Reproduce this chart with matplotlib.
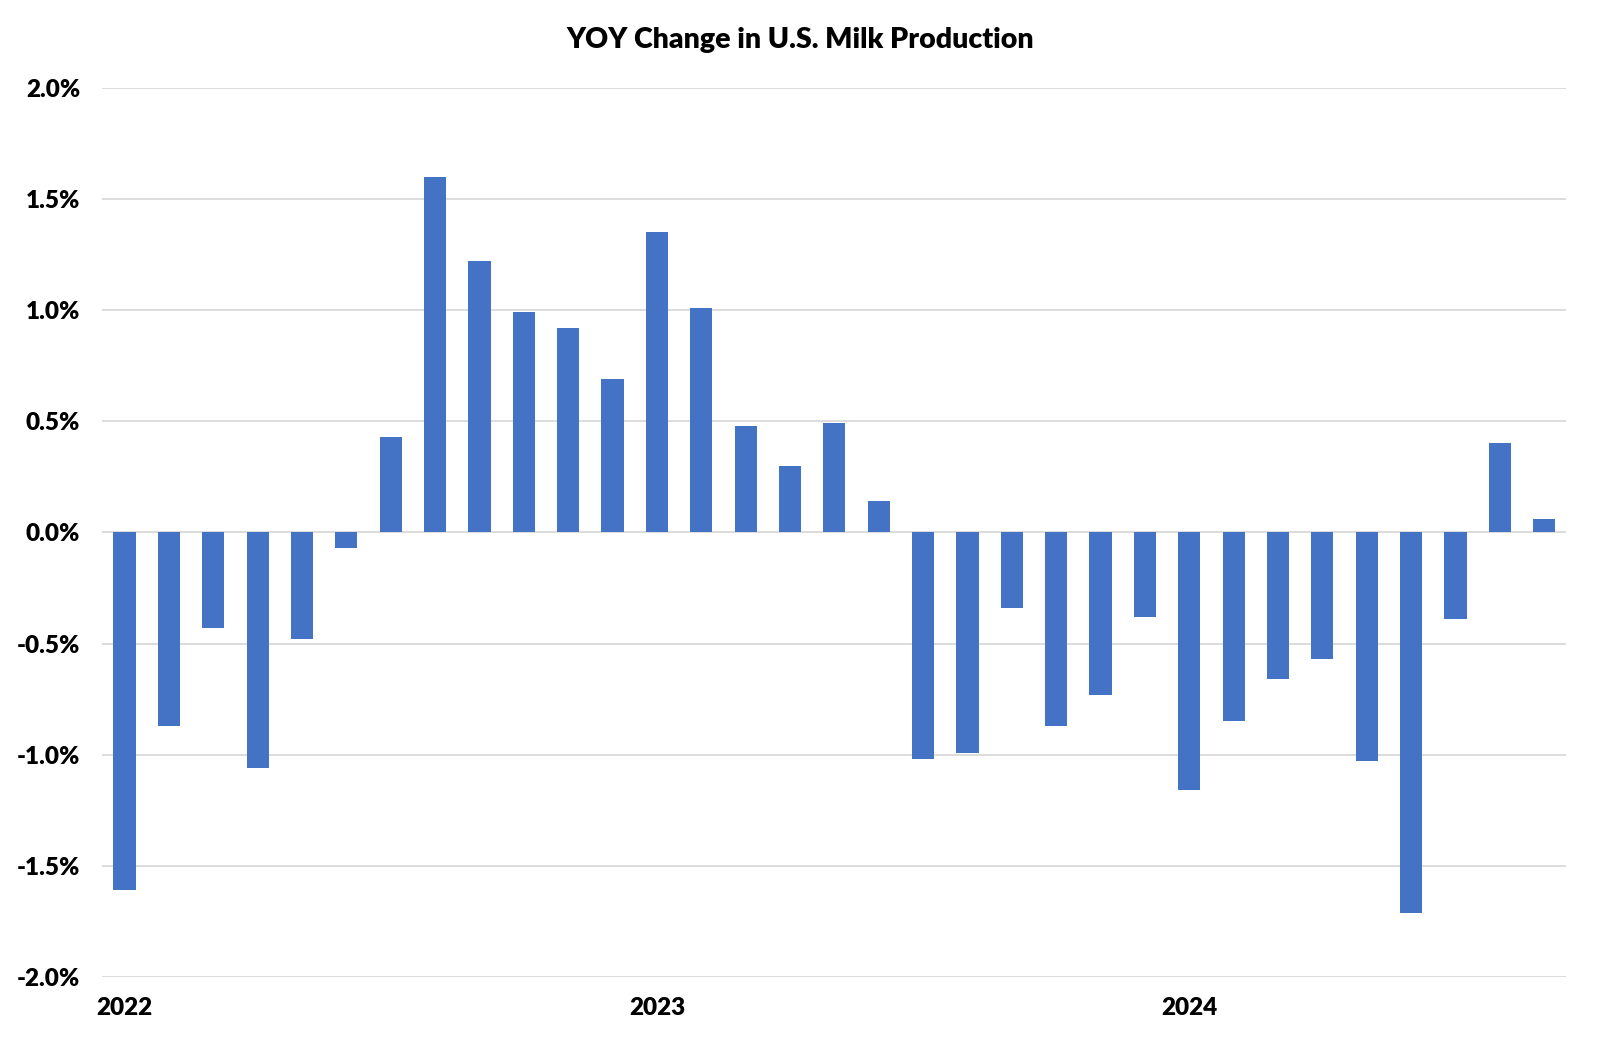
import numpy as np
import matplotlib
matplotlib.use("Agg")
import matplotlib.pyplot as plt
from matplotlib.ticker import FuncFormatter

plt.rcParams['font.family'] = ['Lato', 'DejaVu Sans']
plt.rcParams['font.weight'] = 'heavy'

# monthly YOY change in milk production, % (Jan 2022 - Sep 2024)
yoy = [-1.61, -0.87, -0.43, -1.06, -0.48, -0.07, 0.43, 1.60, 1.22, 0.99, 0.92, 0.69,
       1.35, 1.01, 0.48, 0.30, 0.49, 0.14, -1.02, -0.99, -0.34, -0.87, -0.73, -0.38,
       -1.16, -0.85, -0.66, -0.57, -1.03, -1.71, -0.39, 0.40, 0.06]
year_pos = [0, 12, 24]
year_labels = ['2022', '2023', '2024']
yticks = [-2.0, -1.5, -1.0, -0.5, 0.0, 0.5, 1.0, 1.5, 2.0]

fig = plt.figure(figsize=(16, 10.45), dpi=100)
ax = fig.add_axes([0.064, 0.065, 0.915, 0.851])

x = np.arange(len(yoy))
ax.bar(x, yoy, width=0.5, color='#4472C4', zorder=3)

ax.set_xlim(-0.5, len(yoy) - 0.5)
ax.set_ylim(-2.0, 2.0)
ax.set_yticks(yticks)
ax.yaxis.set_major_formatter(FuncFormatter(lambda v, p: f'{v:.1f}%'))
ax.grid(axis='y', color='#D9D9D9', linewidth=1.3, zorder=0)
ax.set_xticks(year_pos)
ax.set_xticklabels(year_labels)
ax.tick_params(axis='both', length=0, labelsize=17.5)
ax.tick_params(axis='y', pad=16)
ax.tick_params(axis='x', pad=14)
for s in ax.spines.values():
    s.set_visible(False)

fig.text(0.5, 0.962, 'YOY Change in U.S. Milk Production', ha='center', va='center',
         fontsize=20.5, fontweight='heavy')

fig.savefig('out.png', dpi=100)
